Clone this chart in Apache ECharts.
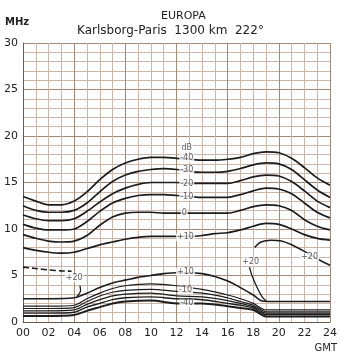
<!DOCTYPE html>
<html>
<head>
<meta charset="utf-8">
<script src="https://cdn.jsdelivr.net/npm/echarts@6/dist/echarts.min.js"></script>
<style>
  html, body { margin: 0; padding: 0; background: #fff; }
  #chart { width: 340px; height: 357px; }
</style>
</head>
<body>
<div id="chart"></div>
<script>
// hours GMT for the upper curves
const hours = [0, 1, 2, 3, 4, 5, 6, 7, 8, 9, 10, 11, 12, 13, 14, 15, 16, 17, 18, 19, 20, 21, 22, 23, 24]
// upper family (MHz), -40 ... +10 dB
const upM40 = [13.5, 13.0, 12.6, 12.6, 13.0, 14.0, 15.3, 16.4, 17.1, 17.5, 17.7, 17.7, 17.6, 17.5, 17.4, 17.4, 17.5, 17.7, 18.1, 18.3, 18.2, 17.6, 16.6, 15.5, 14.7]
const upM30 = [12.5, 12.0, 11.8, 11.8, 12.0, 12.8, 14.0, 15.1, 15.8, 16.2, 16.4, 16.5, 16.4, 16.2, 16.1, 16.1, 16.2, 16.5, 16.9, 17.1, 17.0, 16.4, 15.3, 14.2, 13.4]
const upM20 = [11.5, 11.1, 10.9, 10.9, 11.1, 11.9, 12.9, 13.8, 14.4, 14.8, 15.0, 15.0, 15.0, 14.9, 14.9, 14.9, 14.9, 15.2, 15.6, 15.8, 15.7, 15.1, 14.1, 13.0, 12.3]
const upM10 = [10.5, 10.1, 9.9, 9.9, 10.0, 10.8, 11.9, 12.8, 13.3, 13.6, 13.7, 13.7, 13.6, 13.5, 13.4, 13.4, 13.4, 13.7, 14.1, 14.4, 14.3, 13.8, 12.8, 11.8, 11.2]
const up0 = [9.4, 9.0, 8.7, 8.6, 8.7, 9.3, 10.4, 11.3, 11.7, 11.8, 11.8, 11.7, 11.7, 11.7, 11.7, 11.7, 11.7, 12.0, 12.4, 12.6, 12.5, 12.0, 11.0, 10.3, 9.9]
const upP10 = [8.0, 7.7, 7.5, 7.4, 7.5, 7.9, 8.3, 8.6, 8.9, 9.1, 9.2, 9.2, 9.2, 9.2, 9.3, 9.5, 9.6, 9.9, 10.3, 10.6, 10.5, 10.0, 9.4, 9.0, 8.8]

// +20 dB contour pieces [hour, MHz]
const p20Left = [[0, 5.9], [1, 5.75], [2, 5.6], [3, 5.5], [3.8, 5.45]]
const p20LeftHook = [[4.45, 3.9], [4.5, 3.4], [4.35, 2.95], [4.2, 2.75]]
const p20Hump = [[18.1, 8.0], [18.6, 8.6], [19.4, 8.8], [20.2, 8.7], [21, 8.3], [22, 7.6], [23, 6.8], [24, 6.1]]
const p20Leg = [[17.7, 5.9], [17.9, 5.0], [18.3, 3.7], [18.7, 2.7], [19.0, 2.25]]

// lower +10 dB curve
const lowP10 = [[0, 2.5], [2, 2.5], [4, 2.6], [5, 3.1], [6, 3.7], [7, 4.2], [8, 4.5], [9, 4.8], [10, 5.0], [11, 5.2], [12, 5.3], [13, 5.3], [14, 5.2], [15, 4.9], [16, 4.4], [17, 3.7], [18, 2.9], [18.7, 2.25], [19.5, 2.2], [24, 2.2]]

// lower bundle (MHz)
const lowHours = [0, 2, 4, 5, 6, 7, 8, 10, 12, 14, 16, 17, 18, 19, 20, 22, 24]
const low0 = [1.7, 1.7, 1.8, 2.5, 3.1, 3.6, 3.9, 4.1, 3.9, 3.5, 2.9, 2.5, 2.0, 1.3, 1.3, 1.3, 1.3]
const lowM10 = [1.45, 1.45, 1.55, 2.2, 2.8, 3.2, 3.4, 3.5, 3.3, 3.1, 2.6, 2.2, 1.8, 1.1, 1.1, 1.1, 1.1]
const lowM20 = [1.2, 1.2, 1.3, 1.9, 2.4, 2.8, 3.0, 3.1, 2.8, 2.7, 2.3, 2.0, 1.65, 0.95, 0.95, 0.95, 0.95]
const lowM30 = [0.95, 0.95, 1.05, 1.6, 2.0, 2.4, 2.6, 2.7, 2.5, 2.4, 2.0, 1.8, 1.5, 0.8, 0.8, 0.8, 0.8]
const lowM40 = [0.65, 0.65, 0.75, 1.2, 1.6, 2.0, 2.2, 2.3, 2.0, 2.0, 1.7, 1.5, 1.3, 0.6, 0.6, 0.6, 0.6]

// contour labels: text, hour, MHz
const labelTexts = ['dB', '-40', '-30', '-20', '-10', '0', '+10', '+20', '+20', '+20', '+10', '-10', '-40']
const labelHours = [12.8, 12.8, 12.8, 12.8, 12.8, 12.6, 12.7, 4.0, 17.8, 22.4, 12.7, 12.7, 12.8]
const labelMHz = [18.7, 17.6, 16.3, 14.9, 13.5, 11.7, 9.1, 4.7, 6.5, 7.0, 5.4, 3.4, 2.0]

const zip = (xs, ys) => xs.map((x, i) => [x, ys[i]])

const chart = echarts.init(document.getElementById('chart'))

const ink = '#1c1c1c'
const gridMinor = '#cdb5a8'
const gridMajor = '#a48878'
const lineOf = (data, width, extra) => Object.assign({
  type: 'line',
  data: data,
  smooth: 0.3,
  symbol: 'none',
  lineStyle: { color: ink, width: width },
  z: 3
}, extra || {})

const option = {
  animation: false,
  title: [
    { text: 'EUROPA', left: 156, top: 6, textStyle: { fontFamily: 'DejaVu Sans', fontSize: 11, fontWeight: 'normal', color: '#222' } },
    { text: 'Karlsborg-Paris  1300 km  222°', left: 72, top: 20, textStyle: { fontFamily: 'DejaVu Sans', fontSize: 12, fontWeight: 'normal', color: '#222' } }
  ],
  graphic: [
    { type: 'text', left: 5, top: 17, style: { text: 'MHz', font: 'bold 10px DejaVu Sans', fill: '#222' } },
    { type: 'text', right: 3, top: 343, style: { text: 'GMT', font: '10px DejaVu Sans', fill: '#222' } }
  ],
  grid: { left: 23, right: 4, top: 43, bottom: 35, show: false },
  xAxis: [
    {
      type: 'value', min: 0, max: 24, interval: 2,
      axisLine: { show: true, lineStyle: { color: '#6e5848', width: 1 } },
      axisTick: { show: false },
      axisLabel: {
        fontFamily: 'DejaVu Sans', fontSize: 11, color: '#222', margin: 6,
        formatter: v => (v < 10 ? '0' : '') + v
      },
      splitLine: { show: true, lineStyle: { color: gridMinor, width: 1 } },
      minorTick: { show: false, splitNumber: 2 },
      minorSplitLine: { show: true, lineStyle: { color: gridMinor, width: 1 } }
    },
    {
      type: 'value', min: 0, max: 24, interval: 4, position: 'bottom',
      axisLine: { show: false }, axisTick: { show: false }, axisLabel: { show: false },
      splitLine: { show: true, lineStyle: { color: gridMajor, width: 1 } }
    }
  ],
  yAxis: {
    type: 'value', min: 0, max: 30, interval: 5,
    axisLine: { show: true, lineStyle: { color: '#6e5848', width: 1 } },
    axisTick: { show: false },
    axisLabel: { fontFamily: 'DejaVu Sans', fontSize: 11, color: '#222', margin: 5 },
    splitLine: { show: true, lineStyle: { color: gridMajor, width: 1 } },
    minorTick: { show: false, splitNumber: 5 },
    minorSplitLine: { show: true, lineStyle: { color: gridMinor, width: 1 } }
  },
  series: [
    lineOf(zip(hours, upM40), 1.7),
    lineOf(zip(hours, upM30), 1.7),
    lineOf(zip(hours, upM20), 1.7),
    lineOf(zip(hours, upM10), 1.7),
    lineOf(zip(hours, up0), 1.7),
    lineOf(zip(hours, upP10), 1.7),
    lineOf(p20Left, 1.6, { lineStyle: { color: ink, width: 1.6, type: [6, 3] } }),
    lineOf(p20LeftHook, 1.3),
    lineOf(p20Hump, 1.5),
    lineOf(p20Leg, 1.3),
    lineOf(lowP10, 1.6),
    lineOf(zip(lowHours, low0), 1.2),
    lineOf(zip(lowHours, lowM10), 1.2),
    lineOf(zip(lowHours, lowM20), 1.2),
    lineOf(zip(lowHours, lowM30), 1.4),
    lineOf(zip(lowHours, lowM40), 2),
    {
      type: 'scatter',
      symbolSize: 0,
      z: 5,
      data: labelTexts.map((t, i) => ({ name: t, value: [labelHours[i], labelMHz[i]] })),
      label: {
        show: true, position: 'inside', formatter: p => p.name,
        fontFamily: 'DejaVu Sans', fontSize: 8, color: '#333',
        backgroundColor: '#fff', padding: [0, 1]
      }
    }
  ]
}

chart.setOption(option)
</script>
</body>
</html>
